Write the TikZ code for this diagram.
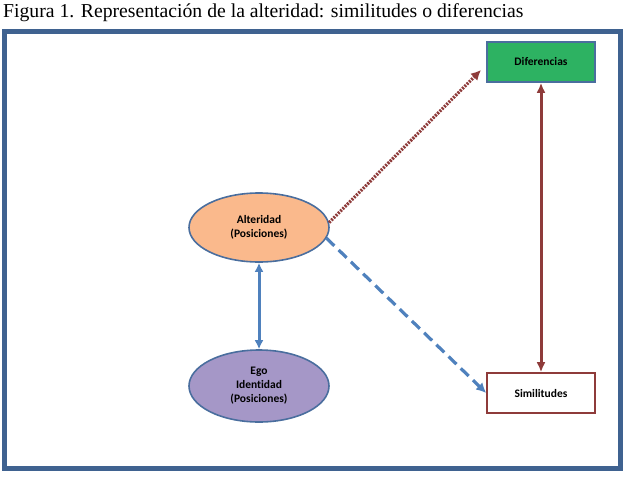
\documentclass[tikz,border=0pt]{standalone}
\usepackage{fontspec}
\setmainfont{Liberation Serif}
\newfontfamily\carl[Ligatures=NoCommon]{Carlito}
\usetikzlibrary{shapes.geometric,arrows.meta}
\definecolor{frameblue}{HTML}{3F6290}
\definecolor{edgeblue}{HTML}{4A6E9E}
\definecolor{arrowblue}{HTML}{4F81BD}
\definecolor{peach}{HTML}{FAB98C}
\definecolor{lilac}{HTML}{A597C7}
\definecolor{boxgreen}{HTML}{2DB262}
\definecolor{darkred}{HTML}{8E3B3A}
\tikzset{
  ell/.style={ellipse, draw=edgeblue, line width=1.6pt, minimum width=140pt, minimum height=69pt, inner sep=0pt, align=center, font=\carl\bfseries\fontsize{11.5}{14}\selectfont},
  rbox/.style={rectangle, minimum width=108pt, minimum height=40pt, inner sep=0pt, font=\carl\bfseries\fontsize{11.5}{13}\selectfont},
}
\begin{document}
\begin{tikzpicture}[x=1pt,y=-1pt]
\useasboundingbox (0,0) rectangle (628,477);
\node[anchor=base west, font=\fontsize{19.7}{22}\selectfont, inner sep=0pt] (title) at (3,17.5) {Figura 1. Representación de la alteridad: similitudes o diferencias};
\draw[frameblue, line width=5pt] (4.5,31.5) rectangle (620.5,468.5);
\node[ell, fill=peach] (alt) at (259,227.5) {Alteridad\\(Posiciones)};
\node[ell, fill=lilac, minimum height=72pt] (ego) at (259,386) {Ego\\Identidad\\(Posiciones)};
\node[rbox, fill=boxgreen, draw=edgeblue, line width=1.6pt] (dif) at (541,62) {Diferencias};
\node[rbox, fill=white, draw=darkred, line width=1.6pt] (sim) at (541,393) {Similitudes};
\draw[draw=arrowblue, line width=3pt, {Latex[length=9pt,width=9pt]}-{Latex[length=9pt,width=9pt]}] (alt) -- (ego);
\draw[draw=darkred, line width=3pt, {Latex[length=10pt,width=9pt]}-{Latex[length=10pt,width=9pt]}] (dif) -- (sim);
\coordinate (dtip) at (481,70);
\draw[draw=darkred, line width=3.2pt, dash pattern=on 2pt off 1.2pt, -{Latex[length=10pt,width=10pt]}] (alt.4) -- (dtip);
\draw[draw=arrowblue, line width=3.2pt, dash pattern=on 11pt off 6pt, -{Latex[length=10pt,width=10pt]}] (alt.-9) -- (sim.west);
\end{tikzpicture}
\end{document}
